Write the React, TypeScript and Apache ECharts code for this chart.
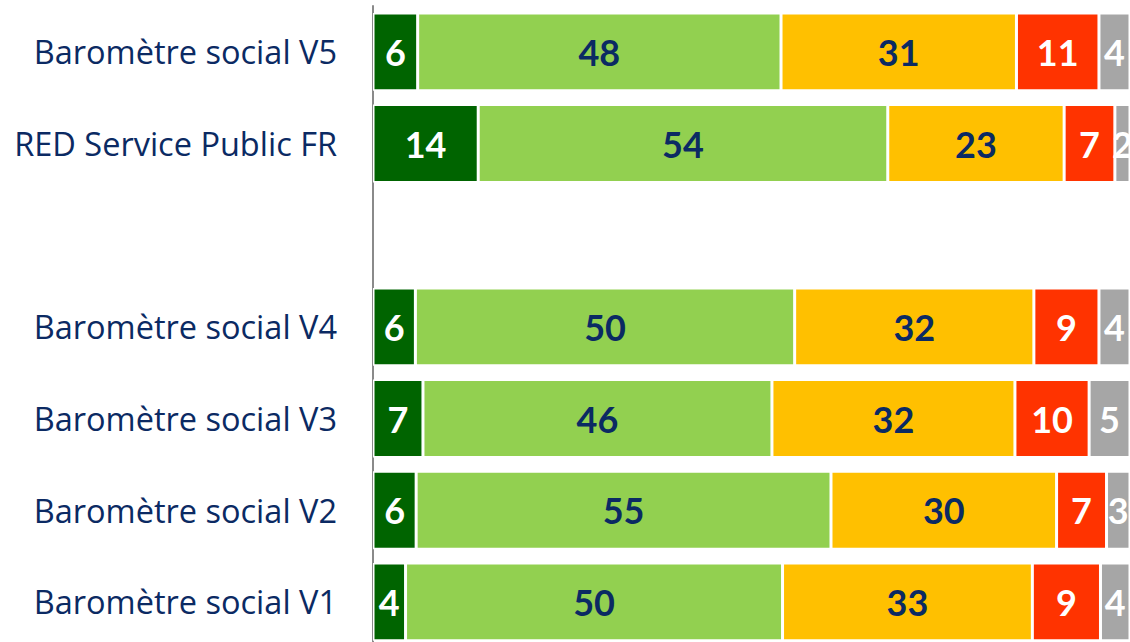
import React, { useEffect, useRef } from "react";
import * as echarts from "echarts";

const categories = [
  "Baromètre social V5",
  "RED Service Public FR",
  "",
  "Baromètre social V4",
  "Baromètre social V3",
  "Baromètre social V2",
  "Baromètre social V1",
];

// Shares (%); labels show the rounded values
const s1 = [5.9, 13.9, null, 5.6, 6.6, 5.7, 4.3];
const s2 = [48.0, 54.1, null, 50.1, 46.1, 54.8, 49.8];
const s3 = [31.1, 23.3, null, 31.6, 32.1, 29.8, 33.0];
const s4 = [10.9, 6.7, null, 8.6, 9.8, 6.6, 9.0];
const s5 = [4.1, 2.0, null, 4.1, 5.4, 3.1, 3.9];

const seriesData = [s1, s2, s3, s4, s5];
const colors = ["#006400", "#92D050", "#FFC000", "#FF3300", "#A6A6A6"];
const labelColors = ["#FFFFFF", "#0B2A63", "#0B2A63", "#FFFFFF", "#FFFFFF"];

export default function App() {
  const ref = useRef<HTMLDivElement>(null);
  useEffect(() => {
    document.body.style.margin = "0";
    const chart = echarts.init(ref.current!, null, { renderer: "svg" });
    chart.setOption({
      animation: false,
      grid: {
        left: 373,
        top: 6,
        width: 757,
        height: 641.7,
        containLabel: false,
        outerBoundsMode: "none",
      },
      xAxis: {
        type: "value",
        min: 0,
        max: 100,
        show: false,
      },
      yAxis: {
        type: "category",
        data: categories,
        inverse: true,
        axisLine: { show: true, lineStyle: { color: "#8A8A8A", width: 2 } },
        axisTick: { show: false },
        axisLabel: {
          margin: 36,
          color: "#0B2A63",
          fontFamily: "Open Sans",
          fontSize: 32.5,
        },
      },
      series: seriesData.map((d, i) => ({
        type: "bar",
        stack: "total",
        data: d,
        barCategoryGap: "15%",
        itemStyle: { color: colors[i], borderColor: "#FFFFFF", borderWidth: 1.5 },
        label: {
          show: true,
          position: "inside",
          color: labelColors[i],
          fontFamily: "Lato",
          fontWeight: "bold",
          fontSize: 36,
          formatter: (p: any) => String(Math.round(p.value)),
        },
      })),
    });
    return () => chart.dispose();
  }, []);
  return <div ref={ref} style={{ width: 1130, height: 642 }} />;
}
